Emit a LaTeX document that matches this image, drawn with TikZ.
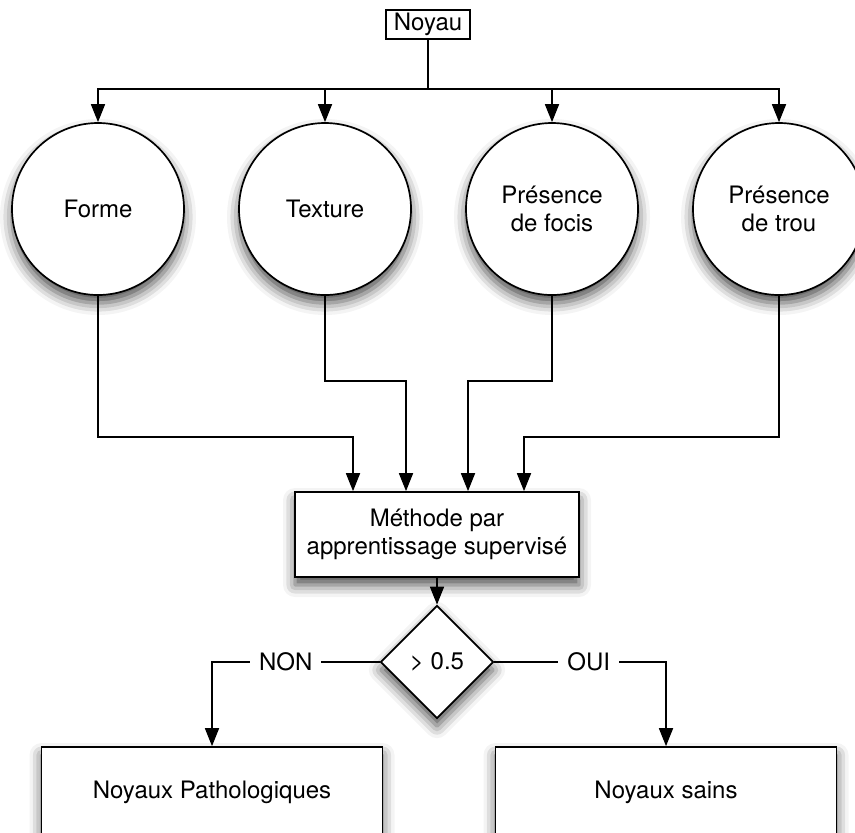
\documentclass[tikz,border=0pt]{standalone}
\usepackage{fontspec}
\setmainfont{TeX Gyre Heros}
\usetikzlibrary{arrows.meta,shapes.geometric,shadows.blur}

\begin{document}
\begin{tikzpicture}[x=0.5pt,y=-0.5pt,line width=0.85pt,
    font=\fontsize{12}{14}\selectfont,
    shade/.style={blur shadow={shadow xshift=0pt,shadow yshift=-4pt,
          shadow blur radius=6pt,shadow opacity=70}},
    critere/.style={circle,draw,fill=white,shade,align=center,
          minimum size=86pt,inner sep=0pt},
    bloc/.style={rectangle,draw,fill=white,shade,align=center},
    test/.style={diamond,draw,fill=white,shade,minimum width=56.5pt,
          minimum height=56.5pt,inner sep=0pt},
    flow/.style={-{Triangle[length=9pt,width=7pt]}},
    etiq/.style={fill=white,inner sep=4.5pt}]
\useasboundingbox (0,0) rectangle (855,832);

% source
\node[draw,rectangle,line width=0.7pt,minimum width=42pt,minimum height=14.5pt,
      inner sep=0pt] (noyau) at (428,24.5) {Noyau};
\coordinate (split) at (428,89);

% the four features
\node[critere] (forme)   at (98,209)  {Forme};
\node[critere] (texture) at (325,209) {Texture};
\node[critere] (focis)   at (552,209) {Présence\\de focis};
\node[critere] (trou)    at (779,209) {Présence\\de trou};

% classifier and threshold
\node[bloc,minimum width=142pt,minimum height=42.5pt] (methode) at (437,534.5)
      {Méthode par\\apprentissage supervisé};
\node[test] (seuil) at (437,662) {> 0.5};

% outcomes
\node[bloc,minimum width=170.5pt,minimum height=45pt] (patho) at (212,792)
      {Noyaux Pathologiques};
\node[bloc,minimum width=170.5pt,minimum height=45pt] (sains) at (666,792)
      {Noyaux sains};

\coordinate (haut) at (0,381);
\coordinate (bas)  at (0,437);

\draw (noyau) -- (split);
\foreach \c in {forme,texture,focis,trou}
  \draw[flow] (split) -| (\c.north);

\draw[flow] (forme.south) -- (forme.south |- bas) -| ([xshift=-42pt]methode.north);
\draw[flow] (texture.south) -- (texture.south |- haut) -| ([xshift=-15.5pt]methode.north);
\draw[flow] (focis.south) -- (focis.south |- haut) -| ([xshift=15.5pt]methode.north);
\draw[flow] (trou.south) -- (trou.south |- bas) -| ([xshift=43.5pt]methode.north);

\draw[flow] (methode) -- (seuil);
\draw[flow] (seuil.west) -- node[etiq,pos=0.56] {NON} (patho.north |- seuil.west) -- (patho.north);
\draw[flow] (seuil.east) -- node[etiq,pos=0.55] {OUI} (sains.north |- seuil.east) -- (sains.north);
\end{tikzpicture}
\end{document}
